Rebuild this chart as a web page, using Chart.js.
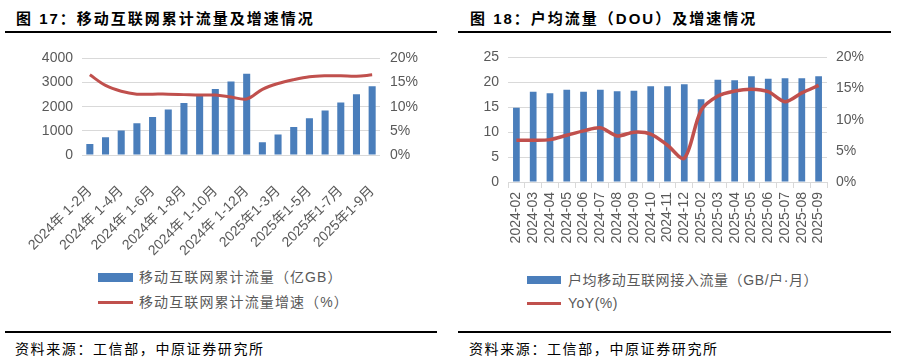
<!DOCTYPE html>
<html>
<head>
<meta charset="utf-8">
<script src="https://cdn.jsdelivr.net/npm/chart.js@4.4.0/dist/chart.umd.min.js"></script>
<style>
  body { margin: 0; width: 908px; height: 362px; background: #fff; position: relative; overflow: hidden;
         font-family: "Liberation Sans", "Noto Sans CJK SC", sans-serif; }
  .title { position: absolute; top: 9px; font-size: 15px; font-weight: bold; letter-spacing: 2px; color: #000; white-space: nowrap; line-height: 20px; }
  .rule { position: absolute; background: #000; }
  .foot { position: absolute; top: 341px; font-size: 14px; letter-spacing: 1.6px; color: #000; white-space: nowrap; line-height: 16px; }
  .cv { position: absolute; }
  .leg { position: absolute; font-size: 14px; color: #595959; letter-spacing: 1.1px; white-space: nowrap; line-height: 16px; }
  .sw { position: absolute; }
</style>
</head>
<body>
<div class="title" style="left:16px">图 17：移动互联网累计流量及增速情况</div>
<div class="rule" style="left:5px;top:31px;width:432px;height:2px"></div>
<div class="title" style="left:470px">图 18：户均流量（DOU）及增速情况</div>
<div class="rule" style="left:458px;top:31px;width:433px;height:2px"></div>

<div class="cv" style="left:0;top:40px;width:454px;height:225px"><canvas id="c1"></canvas></div>
<div class="cv" style="left:454px;top:40px;width:454px;height:220px"><canvas id="c2"></canvas></div>

<div class="sw" style="left:98px;top:273px;width:35px;height:9px;background:#4a7ebb"></div>
<div class="leg" style="left:139px;top:269px">移动互联网累计流量（亿GB）</div>
<div class="sw" style="left:98px;top:301px;width:35px;height:3px;background:#c0504d"></div>
<div class="leg" style="left:139px;top:294px">移动互联网累计流量增速（%）</div>

<div class="sw" style="left:527px;top:276px;width:34px;height:8px;background:#4a7ebb"></div>
<div class="leg" style="left:568px;top:272px;letter-spacing:0.6px">户均移动互联网接入流量（GB/户·月）</div>
<div class="sw" style="left:527px;top:302px;width:34px;height:3px;background:#c0504d"></div>
<div class="leg" style="left:568px;top:295px;letter-spacing:0.5px">YoY(%)</div>

<div class="rule" style="left:5px;top:331px;width:432px;height:2px"></div>
<div class="foot" style="left:15px">资料来源：工信部，中原证券研究所</div>
<div class="rule" style="left:458px;top:331px;width:433px;height:2px"></div>
<div class="foot" style="left:469px">资料来源：工信部，中原证券研究所</div>

<script>
// 图17 移动互联网累计流量
var cumLabels = ['2024年 1-2月', '2024年 1-3月', '2024年 1-4月', '2024年 1-5月', '2024年 1-6月',
  '2024年 1-7月', '2024年 1-8月', '2024年 1-9月', '2024年 1-10月', '2024年 1-11月', '2024年 1-12月',
  '2025年1-2月', '2025年1-3月', '2025年1-4月', '2025年1-5月', '2025年1-6月', '2025年1-7月',
  '2025年1-8月', '2025年1-9月'];
var cumTraffic = [460, 730, 1010, 1310, 1570, 1880, 2150, 2480, 2730, 3040, 3360,
  530, 850, 1160, 1520, 1840, 2170, 2520, 2850];
var cumGrowth = [16.6, 14.4, 13.2, 12.6, 12.6, 12.6, 12.5, 12.4, 12.4, 12.0, 11.6,
  13.6, 14.8, 15.6, 16.2, 16.4, 16.4, 16.3, 16.6];

// 图18 户均流量（DOU）
var douLabels = ['2024-02', '2024-03', '2024-04', '2024-05', '2024-06', '2024-07', '2024-08',
  '2024-09', '2024-10', '2024-11', '2024-12', '2025-02', '2025-03', '2025-04', '2025-05',
  '2025-06', '2025-07', '2025-08', '2025-09'];
var douValues = [14.9, 18.1, 17.8, 18.5, 18.1, 18.5, 18.2, 18.3, 19.2, 19.2, 19.6,
  16.6, 20.5, 20.4, 21.2, 20.7, 20.8, 20.8, 21.2];
var douYoY = [6.7, 6.7, 6.8, 7.5, 8.2, 8.7, 7.4, 8.0, 7.7, 5.9, 3.8,
  11.5, 13.8, 14.6, 14.9, 14.5, 12.9, 14.3, 15.5];

var BLUE = '#4a7ebb';
var RED = '#c0504d';
var GRID = '#d9d9d9';
var TICK = '#595959';
var tickFont = { family: '"Liberation Sans", "Noto Sans CJK SC", sans-serif', size: 14 };

Chart.defaults.animation = false;
Chart.defaults.responsive = true;
Chart.defaults.maintainAspectRatio = false;

function pct(v) { return v + '%'; }
function plain(v) { return String(v); }

new Chart(document.getElementById('c1'), {
  type: 'bar',
  data: {
    labels: cumLabels,
    datasets: [
      { type: 'line', data: cumGrowth, yAxisID: 'y1', borderColor: RED, borderWidth: 3,
        pointRadius: 0, tension: 0.35, order: 0 },
      { type: 'bar', data: cumTraffic, yAxisID: 'y', backgroundColor: BLUE,
        barPercentage: 0.45, categoryPercentage: 1, order: 1 }
    ]
  },
  options: {
    layout: { padding: { top: 16, left: 0, right: 0, bottom: 0 } },
    plugins: { legend: { display: false }, tooltip: { enabled: false } },
    scales: {
      x: {
        grid: { display: false }, border: { display: false },
        afterFit: function (s) { s.height = 110; },
        ticks: {
          autoSkip: false, minRotation: 45, maxRotation: 45, padding: 20,
          color: TICK, font: tickFont,
          callback: function (value, index) { return index % 2 === 0 ? this.getLabelForValue(value) : ''; }
        }
      },
      y: {
        min: 0, max: 4000,
        afterFit: function (s) { s.width = 82; },
        grid: { color: GRID, drawTicks: false }, border: { display: false },
        ticks: { stepSize: 1000, padding: 9, color: TICK, font: tickFont, callback: plain }
      },
      y1: {
        position: 'right', min: 0, max: 20,
        afterFit: function (s) { s.width = 74; },
        grid: { drawOnChartArea: false, drawTicks: false }, border: { display: false },
        ticks: { stepSize: 5, padding: 10, color: TICK, font: tickFont, callback: pct }
      }
    }
  }
});

new Chart(document.getElementById('c2'), {
  type: 'bar',
  data: {
    labels: douLabels,
    datasets: [
      { type: 'line', data: douYoY, yAxisID: 'y1', borderColor: RED, borderWidth: 3.5,
        pointRadius: 0, tension: 0.3, order: 0 },
      { type: 'bar', data: douValues, yAxisID: 'y', backgroundColor: BLUE,
        barPercentage: 0.4, categoryPercentage: 1, order: 1 }
    ]
  },
  options: {
    layout: { padding: { top: 15, left: 0, right: 0, bottom: 0 } },
    plugins: { legend: { display: false }, tooltip: { enabled: false } },
    scales: {
      x: {
        grid: { display: true, drawOnChartArea: false, drawTicks: true, tickLength: 6, color: GRID, offset: true },
        border: { display: true, color: GRID },
        afterFit: function (s) { s.height = 78; },
        ticks: { autoSkip: false, minRotation: 90, maxRotation: 90, padding: 4, color: TICK, font: tickFont }
      },
      y: {
        min: 0, max: 25,
        afterFit: function (s) { s.width = 54; },
        grid: { color: GRID, drawTicks: false }, border: { display: false },
        ticks: { stepSize: 5, padding: 9, color: TICK, font: tickFont }
      },
      y1: {
        position: 'right', min: 0, max: 20,
        afterFit: function (s) { s.width = 81; },
        grid: { drawOnChartArea: false, drawTicks: false }, border: { display: false },
        ticks: { stepSize: 5, padding: 9, color: TICK, font: tickFont, callback: pct }
      }
    }
  }
});
</script>
</body>
</html>
